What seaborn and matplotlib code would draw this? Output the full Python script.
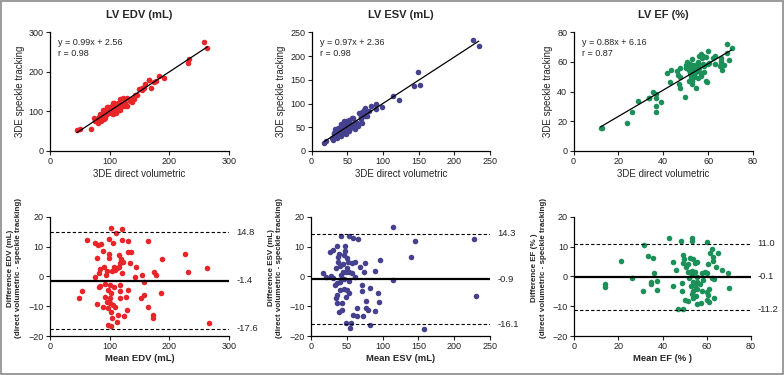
import numpy as np
import matplotlib
matplotlib.use("Agg")
import matplotlib.pyplot as plt
import matplotlib.transforms as mtransforms
from matplotlib import font_manager
from matplotlib.patches import Rectangle
import seaborn as sns

sns.set_style("ticks")
plt.rcParams['font.family'] = ['Liberation Sans', 'DejaVu Sans']

# Bland-Altman readings: mean of the two methods and difference (direct - speckle)
edv_mean = [103, 110.6, 121, 62.6, 75.4, 79.9, 85.5, 99.4, 106, 120, 131, 164, 88, 115,
            130, 136, 99.4, 99.4, 78, 119, 123, 117, 134, 188, 227, 232, 262.6, 144, 84,
            91, 107, 113, 116, 109, 95, 104, 120, 75, 94, 81.6, 142, 154, 174, 178, 158,
            84, 81.6, 93, 100.6, 107, 117, 53, 48.6, 97.8, 103, 118, 131, 92, 100.6, 117,
            127, 152, 157, 186, 78, 95, 100.6, 106, 89, 109, 96.7, 164, 128.5, 102,
            114.5, 124, 104.5, 172.6, 173, 113, 96.7, 103, 266.5]
edv_diff = [16.1, 14.7, 15.9, 12.1, 11.1, 10.5, 10.7, 12.4, 11.3, 12.2, 11.8, 11.8, 8.5,
            7.2, 8.3, 8.0, 7.4, 6.3, 6.0, 5.8, 4.9, 4.4, 4.5, 5.8, 7.5, 1.3, 2.7, 3.2, 2.4,
            3.2, 3.2, 2.9, 3.2, 2.0, 1.8, 1.8, 1.0, -0.1, 0.45, 1.0, -0.1, 0.45, 1.6, 0.45,
            -1.8, -3.2, -3.5, -2.7, -2.9, -3.5, -2.9, -4.9, -7.1, -4.6, -5.7, -4.9, -4.6,
            -6.8, -7.1, -7.4, -6.8, -7.1, -6.3, -5.7, -9.4, -8.5, -9.0, -9.6, -10.2, -10.2,
            -10.5, -10.2, -11.3, -12.1, -13.0, -13.2, -14.1, -13.0, -14.1, -15.4, -16.3,
            -16.5, -15.7]

esv_mean = [115, 228, 145.7, 139.7, 96.4, 89.4, 115, 230, 157.8, 89, 94.6, 93.7, 82.4,
            82.4, 73, 76.6, 79.8, 77, 71.7, 70.8, 63.8, 59, 63.8, 55.8, 54.5, 49, 39.6,
            42.8, 36.8, 42.8, 35, 36.8, 49, 46.5, 50.7, 53.5, 40.5, 33.5, 35.8, 40.5, 46,
            53, 61.4, 17.2, 21, 28.4, 31.2, 42.4, 45, 49, 53.5, 56.8, 50.7, 40.5, 45, 38,
            56.8, 61.4, 68.4, 75.4, 74.5, 38, 46, 50.7, 47.5, 39.1, 26.5, 31.2, 35.8, 47.5,
            41.9, 53.5, 59, 65, 51.7, 34.4]
esv_diff = [16.4, 12.5, 11.7, 6.4, 5.5, 1.7, -1.2, -6.5, -17.8, -11.6, -8.5, -5.7, -3.8,
            -16.3, -13.2, -10.7, -11.3, -8.3, -4.9, -2.9, -13.2, -13.0, -10.5, -15.5,
            -17.2, -15.8, -12.1, -11.3, -9.0, -9.0, -7.1, -6.3, -6.8, -4.2, -4.6, -5.7,
            -4.6, -2.9, -2.3, -1.8, -0.9, -1.6, -0.1, 1.0, -0.1, 0.2, -0.4, 0.45, 1.6, 1.4,
            1.6, 1.0, 2.9, 3.6, 4.0, 4.9, 4.4, 4.7, 3.2, 4.4, 1.4, 6.6, 7.2, 6.3, 8.5, 7.4,
            8.3, 8.7, 10.3, 10.2, 13.6, 13.6, 12.9, 12.4, 4.7, 2.7]

ef_mean = [13.9, 13.9, 21.2, 26.3, 31.6, 33.6, 35.8, 36.1, 34.6, 34.7, 37.6, 31.3, 37.6,
           43.1, 44.9, 46.1, 44.9, 47.2, 49.1, 48.4, 49.1, 49.9, 49.4, 50.5, 51.4, 48.7,
           49, 50.2, 51.7, 53.2, 53.2, 52.5, 53.7, 51.7, 54.7, 55.8, 53.2, 54.7, 53.2,
           52.2, 55.8, 53.7, 55.5, 52.9, 54.7, 53.9, 55.8, 53.2, 55.2, 54, 55.5, 57.5,
           57.8, 57.8, 59.3, 60, 60.8, 60.3, 61.5, 62.3, 62.7, 63.1, 64.3, 65.2, 67.1,
           69.9, 70.2, 62.3, 63.5, 63.5, 60, 60.8, 60, 61.1, 57, 58.2, 61.3]
ef_diff = [-2.7, -3.7, 5.3, -0.4, 10.4, 6.7, 6.1, 1.1, -1.8, -2.5, -1.4, -4.8, -4.6, 12.9,
           4.8, 2.2, -3.4, -10.8, -11.1, 12.0, 7.3, 5.9, 4.4, 3.3, 1.6, -2.3, -4.9, -8.0,
           -8.2, 12.9, 11.8, 6.1, 5.9, 4.1, 4.4, 4.8, 1.9, 1.4, 0.5, -0.4, -0.1, -1.8,
           -1.8, -3.2, -3.1, -4.9, -4.2, -6.0, -6.6, -7.4, -9.4, -9.1, -4.9, 1.1, 1.4,
           1.1, 4.1, 11.5, 7.8, 9.3, 6.4, 5.2, 3.3, 7.8, 2.2, 1.1, -3.8, -0.6, -0.9, -7.2,
           -5.1, -6.3, -8.0, -8.7, -2.7, -1.2, -4.3]

titles = ['LV EDV (mL)', 'LV ESV (mL)', 'LV EF (%)']
colors = ['#e8262a', '#46418f', '#1b9058']
eq_text = ['y = 0.99x + 2.56\nr = 0.98', 'y = 0.97x + 2.36\nr = 0.98',
           'y = 0.88x + 6.16\nr = 0.87']
ax_max = [300, 250, 80]
ax_ticks = [[0, 100, 200, 300], [0, 50, 100, 150, 200, 250], [0, 20, 40, 60, 80]]
ba_xlabel = ['Mean EDV (mL)', 'Mean ESV (mL)', 'Mean EF (% )']
ba_ylabel = ['Difference EDV (mL)', 'Difference ESV (mL)', 'Difference EF (% )']
ba_lines = [[14.8, -1.4, -17.6], [14.3, -0.9, -16.1], [11.0, -0.1, -11.2]]
ba_labels = [['14.8', '-1.4', '-17.6'], ['14.3', '-0.9', '-16.1'], ['11.0', '-0.1', '-11.2']]

means = [edv_mean, esv_mean, ef_mean]
diffs = [edv_diff, esv_diff, ef_diff]

# narrow bold for the long Bland-Altman y labels, if available
names = {f.name for f in font_manager.fontManager.ttflist}
if 'Liberation Sans Narrow' in names:
    ylab_font = dict(family=['Liberation Sans Narrow', 'DejaVu Sans'], fontsize=7)
else:
    ylab_font = dict(family=['Liberation Sans', 'DejaVu Sans'], fontsize=5.8)

fig = plt.figure(figsize=(7.84, 3.75), dpi=100)
W, H = 784, 375
top_x = [(50, 229), (311.5, 490), (573.5, 753)]
bot_x = [(50, 229), (311, 490), (574.3, 750.7)]


def px_axes(x0, x1, ytop, ybot):
    return fig.add_axes([x0 / W, (H - ybot) / H, (x1 - x0) / W, (ybot - ytop) / H])


def style(ax):
    sns.despine(ax=ax)
    ax.tick_params(labelsize=6.5, length=3, width=0.8, pad=1.5, colors='#222222')
    for s in ['left', 'bottom']:
        ax.spines[s].set_linewidth(0.9)
        ax.spines[s].set_color('black')


for i in range(3):
    m = np.array(means[i])
    d = np.array(diffs[i])
    direct = m + d / 2
    speckle = m - d / 2

    # correlation plot
    ax = px_axes(top_x[i][0], top_x[i][1], 32.3, 151)
    sns.regplot(x=direct, y=speckle, ax=ax, ci=None, color=colors[i],
                scatter_kws={'s': 16, 'linewidths': 0, 'alpha': 1},
                line_kws={'color': 'black', 'lw': 0.9})
    ax.set_xlim(0, ax_max[i])
    ax.set_ylim(0, ax_max[i])
    ax.set_xticks(ax_ticks[i])
    ax.set_yticks(ax_ticks[i])
    ax.set_title(titles[i], fontsize=8, fontweight='bold', pad=10)
    ax.set_xlabel('3DE direct volumetric', fontsize=7, labelpad=2)
    ax.set_ylabel('3DE speckle tracking', fontsize=7, labelpad=3)
    ax.text(0.045, 0.95, eq_text[i], transform=ax.transAxes, fontsize=6.5,
            va='top', ha='left', linespacing=1.3)
    style(ax)

    # Bland-Altman plot
    ax = px_axes(bot_x[i][0], bot_x[i][1], 216.7, 336)
    sns.scatterplot(x=m, y=d, ax=ax, color=colors[i], s=16, linewidth=0)
    ax.set_xlim(0, ax_max[i])
    ax.set_ylim(-20, 20)
    ax.set_xticks(ax_ticks[i])
    ax.set_yticks([-20, -10, 0, 10, 20])
    hi, bias, lo = ba_lines[i]
    ax.axhline(hi, color='black', lw=0.8, ls=(0, (3, 2)))
    ax.axhline(bias, color='black', lw=1.6)
    ax.axhline(lo, color='black', lw=0.8, ls=(0, (3, 2)))
    trans = mtransforms.blended_transform_factory(ax.transAxes, ax.transData)
    for v, lab in zip(ba_lines[i], ba_labels[i]):
        ax.text(1.04, v, lab, transform=trans, fontsize=6.8, va='center', ha='left')
    ax.set_xlabel(ba_xlabel[i], fontsize=6.8, fontweight='bold', labelpad=2)
    ax.set_ylabel(ba_ylabel[i] + '\n(direct volumetric - speckle tracking)',
                  fontweight='bold', linespacing=1.3, **ylab_font)
    ax.yaxis.set_label_coords(-0.155, 0.57)
    style(ax)

fig.patches.append(Rectangle((0.001, 0.002), 0.998, 0.996, transform=fig.transFigure,
                             fill=False, edgecolor='#8a8a8a', lw=1.2))

fig.savefig('out.png', dpi=100)
